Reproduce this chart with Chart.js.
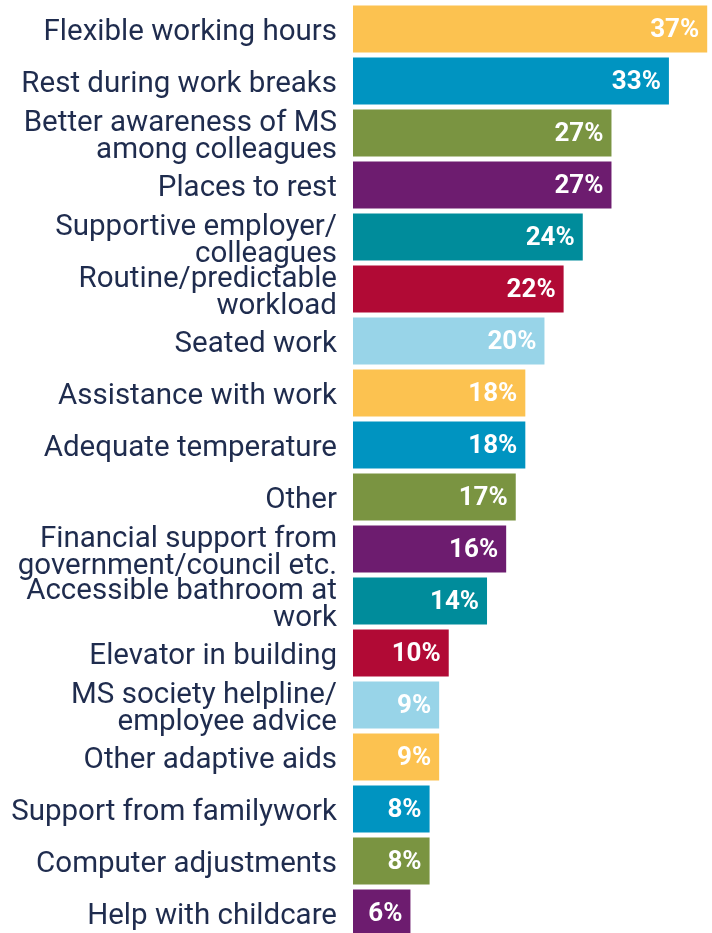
<!DOCTYPE html>
<html><head><meta charset="utf-8">
<script src="https://cdn.jsdelivr.net/npm/chart.js@4"></script>
<style>
html,body{margin:0;padding:0;background:#fff;overflow:hidden;width:712px;height:933px;}
#wrap{position:absolute;left:0;top:3px;width:712px;height:936px;}
</style></head>
<body>
<div id="wrap"><canvas id="c"></canvas></div>
<script>
const categories = [
  ["Flexible working hours"],
  ["Rest during work breaks"],
  ["Better awareness of MS","among colleagues"],
  ["Places to rest"],
  ["Supportive employer/","colleagues"],
  ["Routine/predictable","workload"],
  ["Seated work"],
  ["Assistance with work"],
  ["Adequate temperature"],
  ["Other"],
  ["Financial support from","government/council etc."],
  ["Accessible bathroom at","work"],
  ["Elevator in building"],
  ["MS society helpline/","employee advice"],
  ["Other adaptive aids"],
  ["Support from familywork"],
  ["Computer adjustments"],
  ["Help with childcare"]
];
const values = [37,33,27,27,24,22,20,18,18,17,16,14,10,9,9,8,8,6];
const palette = ["#FCC250","#0094C1","#7A9441","#6D1C6F","#008C9B","#B10A35","#98D4E8"];
const barColors = values.map((v,i)=>palette[i%palette.length]);

const valueLabels = {
  id:'valueLabels',
  afterDatasetsDraw(chart){
    const ctx = chart.ctx;
    const meta = chart.getDatasetMeta(0);
    ctx.save();
    ctx.font = "bold 26px Roboto";
    ctx.fillStyle = "#fff";
    ctx.textAlign = "right";
    ctx.textBaseline = "middle";
    meta.data.forEach((el,i)=>{
      ctx.fillText(values[i]+"%", el.x-8, el.y+1);
    });
    ctx.restore();
  }
};

new Chart(document.getElementById('c'),{
  type:'bar',
  data:{labels:categories,datasets:[{data:values,backgroundColor:barColors,borderWidth:0,categoryPercentage:1,barPercentage:0.9}]},
  options:{
    indexAxis:'y',
    responsive:true,
    maintainAspectRatio:false,
    animation:false,
    layout:{padding:0},
    plugins:{legend:{display:false},tooltip:{enabled:false}},
    scales:{
      x:{display:false,min:0,max:37.5},
      y:{
        grid:{display:false,drawTicks:false},
        border:{display:false},
        afterFit(s){s.width=353;s.paddingTop=0;s.paddingBottom=0;},
        ticks:{autoSkip:false,color:"#1F2C4E",padding:16,labelOffset:4,font:{family:"Roboto",size:29.5,lineHeight:0.92}}
      }
    }
  },
  plugins:[valueLabels]
});
</script>
</body></html>
